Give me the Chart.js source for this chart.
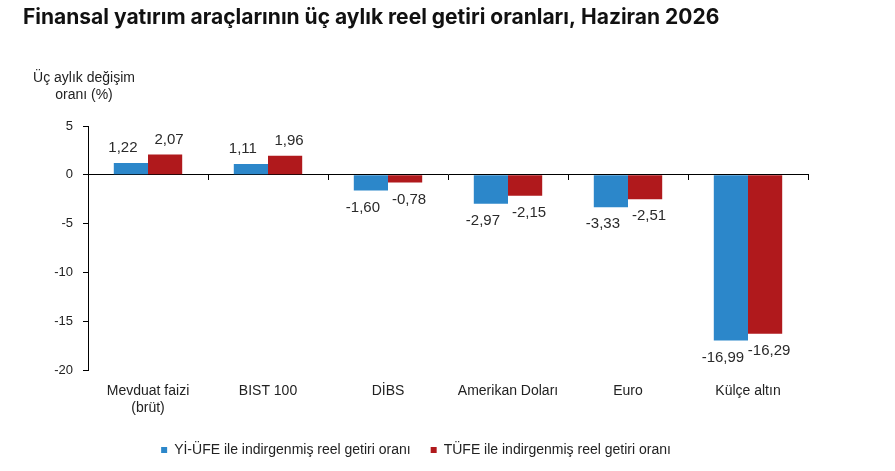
<!DOCTYPE html>
<html>
<head>
<meta charset="utf-8">
<script src="https://cdn.jsdelivr.net/npm/chart.js@4"></script>
<style>
  html, body { margin: 0; padding: 0; background: #fff; }
  #wrap { width: 895px; height: 471px; position: relative; }
</style>
</head>
<body>
<div id="wrap"><canvas id="c"></canvas></div>
<script>
// Three-month real returns of financial instruments, June 2026.

const categories = [['Mevduat faizi', '(brüt)'], 'BIST 100', 'DİBS', 'Amerikan Doları', 'Euro', 'Külçe altın'];
const yiufeReturns = [1.22, 1.11, -1.60, -2.97, -3.33, -16.99];
const tufeReturns = [2.07, 1.96, -0.78, -2.15, -2.51, -16.29];
const seriesNames = ['Yİ-ÜFE ile indirgenmiş reel getiri oranı', 'TÜFE ile indirgenmiş reel getiri oranı'];
const yTicks = [5, 0, -5, -10, -15, -20];

const FONT = '"Liberation Sans", Arial, sans-serif';
const BLUE = '#2c87ca';
const RED = '#b0191c';

function fmt(v) {
  return v.toFixed(2).replace('.', ',');
}

// Value labels: above positive bars, below negative ones. The two series are
// nudged apart a little so neighbouring labels do not collide.
const valueLabels = {
  id: 'value-labels',
  afterDatasetsDraw(chart) {
    const ctx = chart.ctx;
    const nudge = [-8, 4];
    ctx.save();
    ctx.font = '15px ' + FONT;
    ctx.fillStyle = '#2a2a2a';
    ctx.textAlign = 'center';
    ctx.textBaseline = 'middle';
    chart.data.datasets.forEach((ds, di) => {
      const meta = chart.getDatasetMeta(di);
      meta.data.forEach((bar, i) => {
        const v = ds.data[i];
        const y = v >= 0 ? bar.y - 15 : bar.y + 17;
        ctx.fillText(fmt(v), bar.x + nudge[di], y);
      });
    });
    ctx.restore();
  },
};

// Headline and the horizontal y-axis caption in the top-left corner.
const headings = {
  id: 'headings',
  afterDraw(chart) {
    const ctx = chart.ctx;
    ctx.save();
    ctx.fillStyle = '#111';
    ctx.textBaseline = 'middle';
    ctx.textAlign = 'left';
    ctx.font = '700 21px Inter, Roboto, sans-serif';
    ctx.fillText('Finansal yatırım araçlarının üç aylık reel getiri oranları, Haziran 2026', 23, 18);
    ctx.font = '14px ' + FONT;
    ctx.fillStyle = '#222';
    ctx.textAlign = 'center';
    ctx.fillText('Üç aylık değişim', 84, 78);
    ctx.fillText('oranı (%)', 84, 95);
    ctx.restore();
  },
};

new Chart(document.getElementById('c'), {
  type: 'bar',
  data: {
    labels: categories,
    datasets: [
      { label: seriesNames[0], data: yiufeReturns, backgroundColor: BLUE, borderWidth: 0 },
      { label: seriesNames[1], data: tufeReturns, backgroundColor: RED, borderWidth: 0 },
    ],
  },
  options: {
    responsive: true, maintainAspectRatio: false, animation: false,
    layout: { padding: { top: 126, left: 24, right: 87, bottom: 4 } },
    categoryPercentage: 0.57, barPercentage: 1,
    scales: {
      x: {
        position: 'bottom',
        grid: { display: false },
        border: { display: false },
        ticks: { color: '#222', font: { family: FONT, size: 14 }, padding: 5, maxRotation: 0, autoSkip: false },
        afterFit(s) { s.height = 53; },
      },
      x0: {
        type: 'category',
        position: { y: 0 },
        offset: true,
        grid: { offset: true, drawOnChartArea: false, drawTicks: true, tickLength: 5, color: '#000' },
        border: { display: true, color: '#000', width: 1 },
        ticks: { display: false },
      },
      y: {
        min: -20, max: 5,
        afterBuildTicks(s) { s.ticks = yTicks.map(v => ({ value: v })); },
        grid: { drawOnChartArea: false, tickLength: 5, color: '#000' },
        border: { display: true, color: '#000', width: 1 },
        ticks: { color: '#222', font: { family: FONT, size: 13 }, padding: 10, callback: v => String(v) },
        afterFit(s) { s.width = 64; },
      },
    },
    plugins: {
      legend: {
        position: 'bottom',
        labels: {
          color: '#222', font: { family: FONT, size: 14 },
          boxWidth: 6, boxHeight: 6, padding: 20, useBorderRadius: false,
        },
      },
      tooltip: { enabled: false },
    },
  },
  plugins: [valueLabels, headings],
});
</script>
</body>
</html>
